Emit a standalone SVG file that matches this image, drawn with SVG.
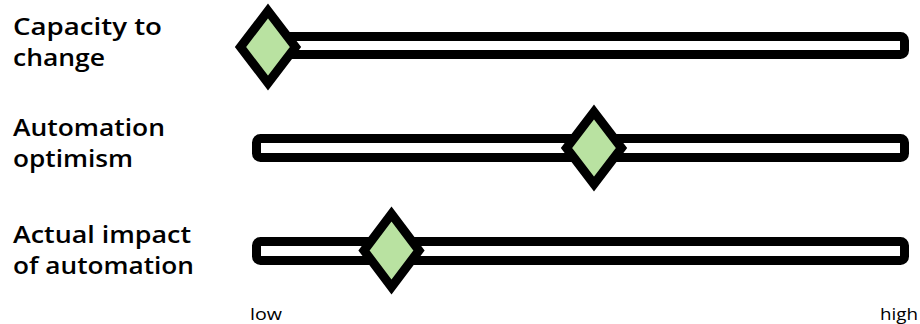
<svg xmlns="http://www.w3.org/2000/svg" width="920" height="324" viewBox="0 0 920 324">
<style>
.lbl{font-family:"Open Sans","DejaVu Sans",sans-serif;font-size:24px;font-weight:600;fill:#000}
.ax{font-family:"Open Sans","DejaVu Sans",sans-serif;font-size:16px;font-weight:500;fill:#000}
.bar{fill:#fff;stroke:#000;stroke-width:9}
.dia{fill:#b9e2a1;stroke:#000;stroke-width:9;stroke-linejoin:miter}
</style>
<rect width="920" height="324" fill="#fff"/>
<g id="labels">
<text class="lbl" x="13" y="35" textLength="149" lengthAdjust="spacingAndGlyphs">Capacity to</text>
<text class="lbl" x="13" y="66" textLength="92" lengthAdjust="spacingAndGlyphs">change</text>
<text class="lbl" x="13" y="136" textLength="152" lengthAdjust="spacingAndGlyphs">Automation</text>
<text class="lbl" x="13" y="167" textLength="120" lengthAdjust="spacingAndGlyphs">optimism</text>
<text class="lbl" x="13" y="243" textLength="178" lengthAdjust="spacingAndGlyphs">Actual impact</text>
<text class="lbl" x="13" y="274" textLength="181" lengthAdjust="spacingAndGlyphs">of automation</text>
<text class="ax" x="250" y="320" textLength="32" lengthAdjust="spacingAndGlyphs">low</text>
<text class="ax" x="880" y="320" textLength="38" lengthAdjust="spacingAndGlyphs">high</text>
</g>
<g id="slider1">
<rect class="bar" x="272" y="36.5" width="632.5" height="18" rx="4"/>
<path class="dia" d="M268,11 L295.5,47 L268,83 L240.5,47 Z"/>
</g>
<g id="slider2">
<rect class="bar" x="256.5" y="138.5" width="648" height="19" rx="4"/>
<path class="dia" d="M594,112 L621.5,148 L594,184 L566.5,148 Z"/>
</g>
<g id="slider3">
<rect class="bar" x="256.5" y="241.5" width="648" height="19" rx="4"/>
<path class="dia" d="M391.5,214 L419,250.5 L391.5,287 L364,250.5 Z"/>
</g>
</svg>
